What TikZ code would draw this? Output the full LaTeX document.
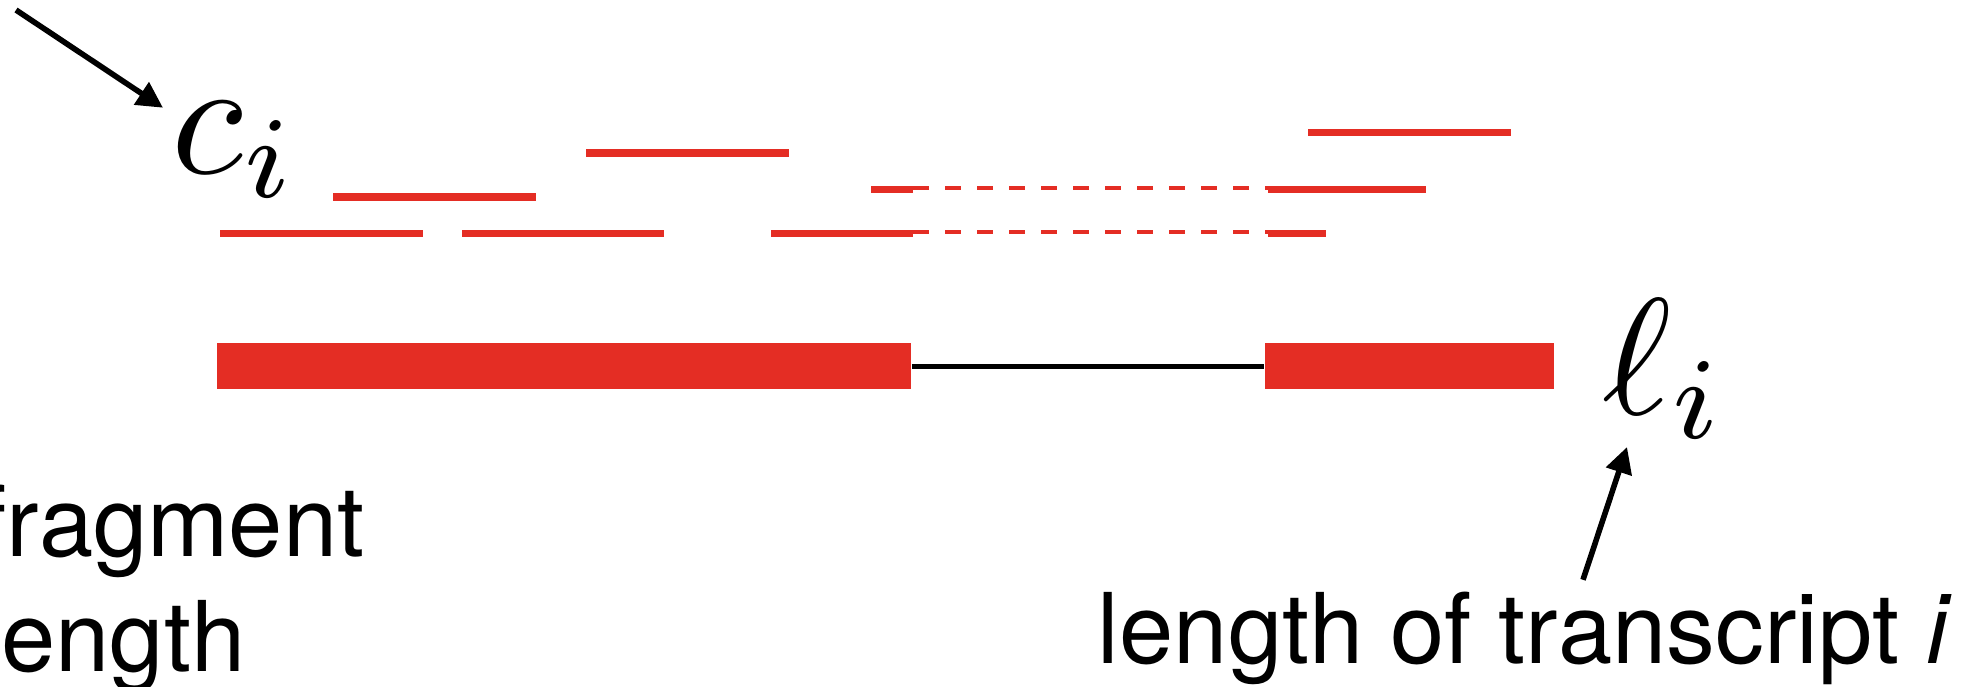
\documentclass[tikz,border=0pt]{standalone}
\usepackage{fontspec}
\newfontfamily\heros{TeX Gyre Heros}
\usetikzlibrary{arrows.meta}
\definecolor{exred}{RGB}{228,45,36}
\newcommand{\bigmath}[1]{\scalebox{4.15}{$#1$}}
\begin{document}
\begin{tikzpicture}[x=0.25pt,y=-0.25pt,
  frag/.style={exred,line width=1.85pt},
  gapline/.style={exred,line width=0.85pt,dash pattern=on 4pt off 4pt},
  exon/.style={fill=exred,draw=none,inner sep=0pt,minimum height=11.5pt},
  intron/.style={black,line width=1.25pt},
  lbl/.style={inner sep=0pt,font=\heros\fontsize{24.4}{28.75}\selectfont},
  mathlbl/.style={inner sep=0pt,font=\fontsize{10}{12}\selectfont},
  arr/.style={-{Triangle[length=6.5pt,width=6.5pt]},line width=1.4pt}]
\path[use as bounding box,clip] (0,0) rectangle (1988,686);

% labels
\node[mathlbl,anchor=base west] (ci) at (171,173) {\bigmath{c_i}};
\node[mathlbl,anchor=base west] (li) at (1602,414) {\bigmath{\ell_i}};
\node[lbl,anchor=base west] (fragA) at (-21,556) {fragment};
\node[lbl,anchor=base west] (fragB) at (-21,671) {length};
\node[lbl,anchor=base west] (trlen) at (1097,663) {length of transcript \textit{i}};

% fragments (reads)
\draw[frag] (333,197) -- (536,197);
\draw[frag] (586,153) -- (789,153);
\draw[frag] (1308,132.5) -- (1511,132.5);
\draw[frag] (220,233.5) -- (423,233.5);
\draw[frag] (462,233.5) -- (664,233.5);
% spliced fragments
\draw[frag] (871,189.5) -- (913,189.5);
\draw[gapline] (913,188) -- (1268,188);
\draw[frag] (1268,189.5) -- (1426,189.5);
\draw[frag] (771,233.5) -- (913,233.5);
\draw[gapline] (913,232) -- (1268,232);
\draw[frag] (1268,233.5) -- (1326,233.5);

% transcript
\node[exon,minimum width=173.5pt] (exon1) at (564,366) {};
\node[exon,minimum width=72.25pt] (exon2) at (1409.5,366) {};
\draw[intron] (exon1.east) -- (exon2.west);

% arrows
\coordinate (ciTail) at (16,10);
\draw[arr] (ciTail) -- ([shift={(-8,7)}]ci.north west);
\draw[arr] ([shift={(-7,-11)}]trlen.north west -| 1590,0) -- (1627,447);
\end{tikzpicture}
\end{document}
